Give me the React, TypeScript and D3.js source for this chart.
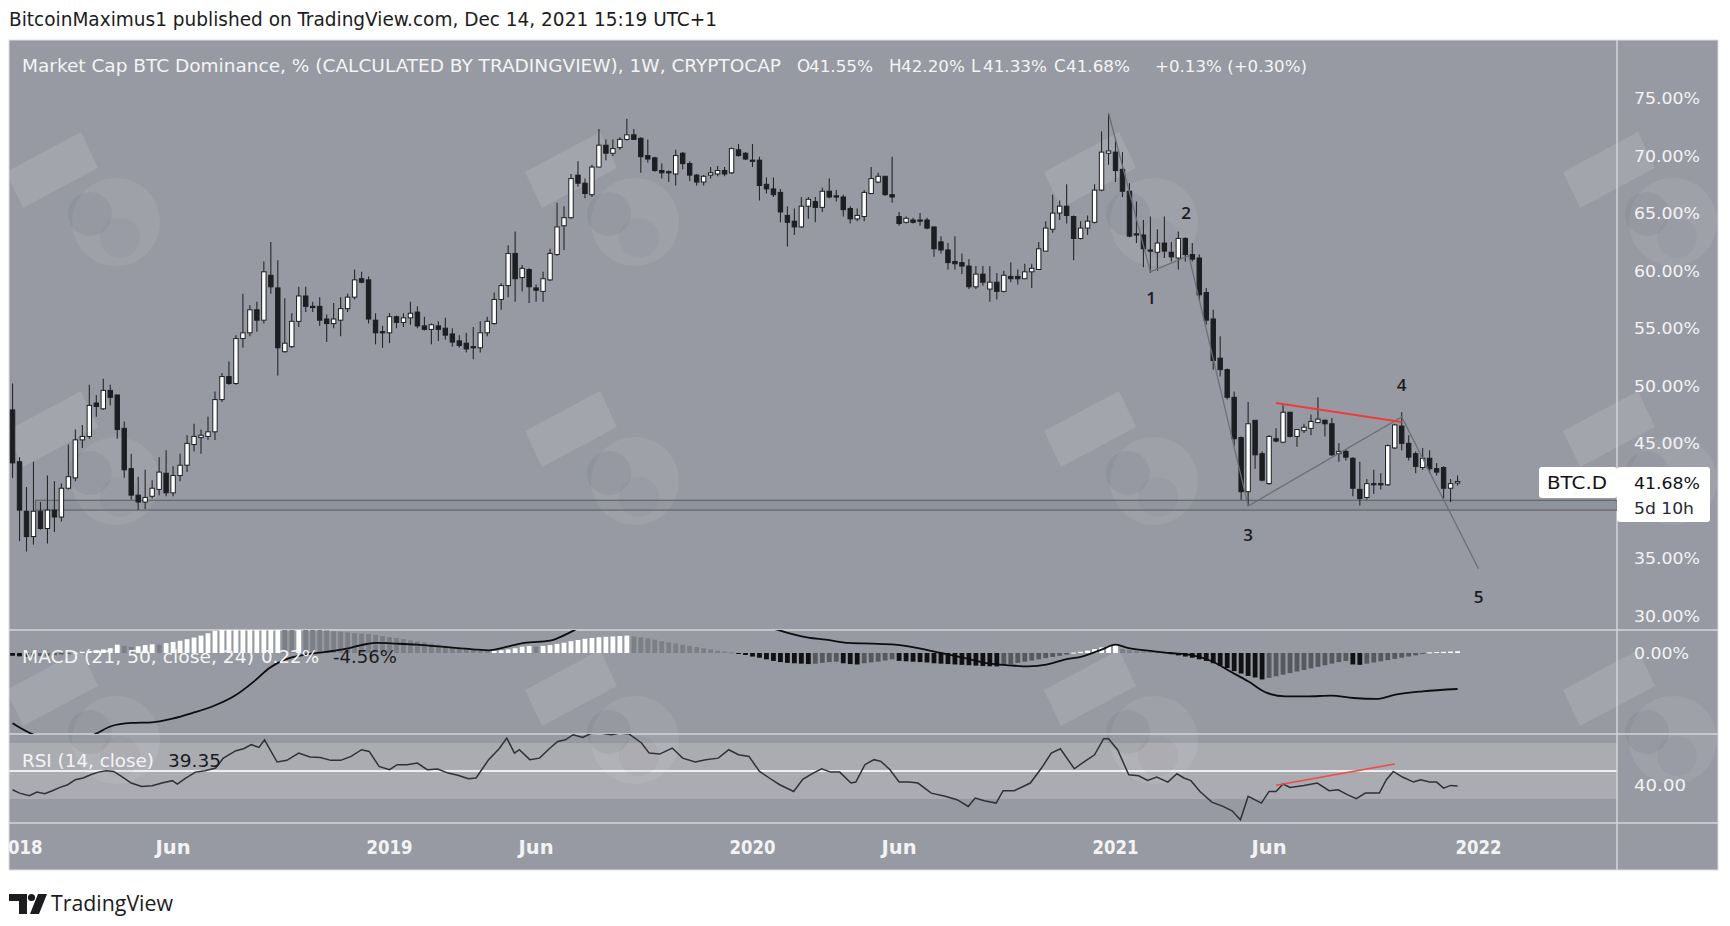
import React from 'react';
import * as d3 from 'd3';

// ---------- DATA ----------
// Weekly candles of CRYPTOCAP:BTC.D, first bar = week index -1 (week of 2017-12-25), last = week 206 (2021-12-13)
const FIRST_WEEK = -1;
const opens = [47.9,43.4,39.1,36.9,39.1,37.6,39.2,38.6,41.1,42.0,45.3,45.6,48.5,48.0,49.6,49.2,46.3,42.8,40.5,39.9,40.4,41.0,42.4,40.7,42.2,43.1,44.9,45.5,45.6,46.0,48.8,50.8,50.2,54.1,54.6,56.6,55.7,59.6,58.5,52.96,53.4,55.6,57.8,56.9,56.9,55.8,55.4,55.7,56.7,57.7,59.3,59.2,55.7,54.7,54.6,56.0,55.5,55.9,56.4,55.2,54.9,55.2,55.0,54.5,53.9,53.7,53.4,53.3,54.6,55.4,57.5,58.7,61.5,59.4,60.1,58.5,58.2,59.2,61.4,63.9,64.6,68.3,67.6,66.6,69.0,70.9,70.2,70.7,71.4,71.8,71.5,70.0,69.8,68.7,68.6,68.4,70.2,69.3,68.3,67.7,68.3,68.4,68.7,68.5,70.5,70.2,69.6,69.6,67.5,67.1,66.8,64.8,64.3,63.8,65.6,66.0,65.5,66.9,66.5,66.4,65.4,64.5,64.7,66.7,67.7,68.2,66.6,64.7,64.2,64.4,64.4,64.4,63.8,62.5,61.8,60.8,60.7,60.4,58.6,59.7,58.4,59.0,58.2,59.5,59.5,59.3,59.9,60.1,61.7,63.6,65.0,65.6,64.7,62.8,63.7,64.2,67.0,70.2,70.3,68.8,66.9,63.2,63.1,61.8,61.6,62.4,61.6,61.1,62.8,61.4,61.1,58.1,55.8,52.4,51.4,49.0,45.5,40.8,47.0,44.1,41.5,45.4,45.1,47.7,45.6,46.1,46.3,46.8,47.0,46.7,44.1,44.3,43.7,41.0,40.3,41.5,41.5,41.4,44.6,46.5,45.0,44.1,42.9,43.7,42.8,42.9,41.1,41.55];
const highs = [50.2,43.8,41.2,43.4,39.9,42.2,41.7,41.5,44.9,46.2,46.6,50.1,49.2,50.6,50.1,49.2,46.9,44.1,42.1,42.7,41.8,43.8,44.4,43.0,44.1,45.7,46.7,46.2,47.3,49.5,51.1,52.1,54.4,58.0,57.0,57.3,60.8,62.5,60.9,57.6,56.3,58.6,58.6,57.3,57.7,56.2,57.2,57.7,58.0,60.1,59.9,59.5,56.3,55.2,56.3,56.1,56.3,57.3,56.9,56.0,55.4,55.6,55.9,55.0,54.4,54.6,55.1,55.6,56.0,58.1,58.9,62.2,63.4,60.5,60.2,58.8,59.9,61.9,65.9,65.6,68.4,69.5,68.0,69.2,72.3,71.4,71.4,71.6,73.2,72.3,71.6,71.4,69.9,69.3,68.7,70.5,70.3,69.5,68.4,68.3,69.0,69.1,69.0,70.7,71.0,70.3,71.0,69.9,68.1,68.1,67.1,65.6,65.4,66.4,66.4,66.4,67.2,68.0,67.0,66.6,65.6,65.4,67.0,69.0,68.5,68.2,69.9,65.1,64.7,64.6,65.0,64.6,63.8,63.0,62.4,63.0,61.5,61.0,60.4,60.4,60.4,59.8,60.0,60.7,60.1,60.6,60.6,62.5,64.3,66.6,66.1,67.5,64.8,64.3,64.8,67.5,72.1,73.7,71.5,70.3,67.6,66.0,64.4,64.7,63.6,64.7,62.5,63.4,62.9,62.4,61.4,58.5,56.6,54.3,51.5,49.5,45.6,48.6,47.0,44.3,45.7,46.3,48.3,47.7,46.2,46.7,47.5,49.0,47.1,47.2,45.0,44.5,43.8,43.4,41.9,42.7,42.4,44.9,46.7,47.7,45.7,44.3,44.6,44.4,43.3,43.0,41.9,42.2];
const lows = [42.0,36.5,35.6,36.2,37.5,36.3,37.3,38.2,41.0,41.7,44.6,45.4,47.3,47.9,48.3,45.4,42.0,40.1,39.2,39.3,40.2,40.5,40.4,40.4,41.7,42.5,44.3,44.1,45.3,45.3,48.6,50.1,50.1,53.3,54.3,54.7,55.4,58.0,50.9,52.9,53.3,55.1,56.4,56.4,55.2,53.8,55.0,54.3,56.4,57.5,58.9,55.4,53.6,53.3,53.7,55.0,55.1,55.3,55.0,54.8,53.6,53.9,54.0,53.4,53.3,52.9,52.3,52.9,54.3,55.3,56.6,57.7,57.3,58.2,57.2,57.3,57.3,59.1,61.3,61.8,64.5,67.3,66.3,66.4,69.0,69.6,69.96,70.5,71.3,71.4,68.5,69.4,68.6,68.0,67.7,67.4,68.8,67.8,67.4,67.4,68.0,68.2,68.2,68.4,69.9,69.6,69.0,66.1,66.7,66.4,64.2,62.1,63.1,63.7,64.5,64.2,65.1,66.3,66.0,64.7,64.1,64.3,64.3,66.7,67.6,66.5,65.9,63.9,64.1,64.1,63.9,63.6,61.2,61.5,60.1,60.1,59.7,58.4,58.4,58.7,57.3,57.5,58.1,59.0,58.8,59.3,58.5,60.1,61.7,63.3,64.4,64.1,60.9,62.7,63.1,64.1,66.9,69.2,67.7,66.4,62.9,62.4,60.3,59.8,60.0,61.1,60.8,60.1,60.8,60.8,57.4,55.3,51.4,50.8,48.8,44.8,40.1,39.6,42.8,41.7,41.4,45.1,45.0,45.5,44.7,45.9,45.7,46.8,45.6,43.9,43.4,43.5,40.4,39.6,40.1,40.6,41.0,41.3,44.5,44.4,43.5,42.4,42.7,42.4,42.2,40.2,39.9,41.33];
const closes = [43.3,39.2,36.9,39.1,37.6,39.2,38.6,41.1,42.1,45.3,45.6,48.3,48.2,49.6,49.0,46.2,42.7,40.5,39.9,40.3,41.1,42.5,40.7,42.2,43.1,45.0,45.6,45.7,46.0,48.8,50.8,50.2,54.1,54.6,56.6,55.7,59.9,58.6,53.3,53.7,55.6,57.8,56.9,56.8,55.7,55.4,55.8,56.7,57.7,59.2,59.0,55.8,54.6,54.6,56.0,55.5,55.9,56.3,55.2,54.9,55.3,54.9,54.4,53.8,53.5,53.2,53.3,54.6,55.6,57.5,58.7,61.5,59.3,60.2,58.6,58.3,59.3,61.5,63.8,64.6,68.0,67.6,66.7,69.0,70.9,70.2,70.6,71.4,71.8,71.4,69.9,69.7,68.7,68.5,68.5,70.0,69.3,68.3,67.7,68.2,68.5,68.7,68.4,70.6,70.0,69.7,69.5,67.4,67.1,66.6,65.1,64.2,63.8,65.6,66.2,65.5,66.9,66.4,66.4,65.3,64.5,64.8,66.8,68.0,68.2,66.6,66.4,64.1,64.55,64.2,64.3,63.7,61.9,61.8,60.7,60.6,60.4,58.6,59.7,59.0,59.0,58.2,59.6,59.3,59.3,59.9,60.2,61.9,63.7,65.0,65.6,64.8,62.8,63.7,64.3,67.0,70.3,70.4,68.7,66.9,63.0,63.1,61.9,61.7,62.4,61.7,61.2,62.8,61.4,61.0,57.9,55.7,52.2,51.4,49.0,45.4,40.8,46.7,44.0,41.8,45.6,45.2,47.7,45.6,46.2,46.4,46.9,47.1,46.7,44.0,44.3,43.8,41.1,40.2,41.5,41.4,41.4,44.8,46.6,45.0,43.8,43.0,43.7,42.8,42.5,41.1,41.5,41.68];

// MACD (21, 50, close, 24) histogram, one value per weekly bar (%)
const macdHist = [-0.35,-0.42,-0.48,-0.45,-0.4,-0.35,-0.28,-0.18,-0.08,0.05,0.15,0.25,0.35,0.45,0.6,1.05,0.9,0.75,0.85,1.0,1.1,1.05,1.25,1.4,1.55,1.75,1.95,2.2,2.5,2.8,3.05,3.3,3.5,3.7,3.9,4.05,4.15,4.2,4.25,4.0,3.8,3.9,3.5,3.1,2.95,2.85,2.75,2.7,2.6,2.5,2.45,2.4,2.3,2.15,2.0,1.9,1.75,1.6,1.48,1.35,1.2,1.05,0.9,0.75,0.62,0.5,0.4,0.3,0.22,0.28,0.34,0.45,0.6,0.8,0.88,0.82,0.9,1.0,1.15,1.3,1.5,1.65,1.8,1.9,2.0,2.05,2.1,2.15,2.2,2.1,1.98,1.85,1.7,1.5,1.35,1.2,1.05,0.9,0.75,0.6,0.45,0.3,0.2,0.08,-0.1,-0.25,-0.45,-0.6,-0.8,-1.0,-1.15,-1.25,-1.3,-1.35,-1.4,-1.35,-1.25,-1.15,-1.1,-1.3,-1.4,-1.45,-1.3,-1.2,-1.1,-0.95,-0.8,-1.0,-1.05,-1.1,-1.15,-1.2,-1.3,-1.35,-1.4,-1.45,-1.5,-1.55,-1.6,-1.65,-1.68,-1.7,-1.55,-1.4,-1.25,-1.1,-0.95,-0.8,-0.65,-0.5,-0.35,-0.2,0.05,0.15,0.3,0.5,0.7,0.85,1.0,0.5,0.35,0.25,0.2,0.15,0.1,0.05,-0.15,-0.3,-0.45,-0.6,-0.8,-1.0,-1.3,-1.6,-1.9,-2.3,-2.6,-2.9,-3.1,-3.35,-3.15,-2.95,-2.75,-2.55,-2.35,-2.15,-1.95,-1.75,-1.55,-1.35,-1.15,-1.0,-1.45,-1.5,-1.35,-1.2,-1.05,-0.9,-0.75,-0.6,-0.45,-0.3,-0.05,0.08,0.12,0.15,0.18,0.22];

// MACD line, read at these week indices
const macdWeeks = [-1,1.4,4.3,7.3,10.9,13.1,16,19,21.9,24.8,27.7,30.7,33.6,35.8,38,40.9,43.8,46.7,49.7,51.1,54,57,59.9,62.8,65.7,67.2,70.1,72.3,76,78.2,79.6,84,90,97,103,108.5,111,113,115.5,118.8,122.1,125.4,128.7,132,135.3,138.5,141.8,144.5,147.1,149.7,152.3,155,157,158.9,161.6,164.8,168.1,170.8,173.4,176,178.7,181.3,184.6,187.9,191.1,194.4,197.1,201,206];
const macdLine = [-8.9,-10.1,-11.0,-11.5,-10.25,-9.28,-8.86,-8.78,-8.31,-7.59,-6.75,-5.49,-3.59,-1.9,-0.84,-0.21,0.13,0.51,1.14,1.27,1.18,1.05,0.84,0.63,0.42,0.34,0.84,1.27,1.56,2.32,2.95,4.6,5.6,5.0,3.9,2.95,2.32,1.95,1.69,1.27,1.18,1.05,0.63,0.0,-0.63,-1.27,-1.56,-1.69,-1.48,-0.84,-0.42,0.42,1.05,0.63,0.3,0.0,-0.3,-1.05,-2.32,-3.59,-5.06,-5.49,-5.49,-5.4,-5.7,-5.82,-5.27,-4.85,-4.56];

// RSI (14, close), read at these week indices
const rsiWeeks = [-1,0,1.4,2.5,3.6,4.7,5.8,6.9,8,9.1,10.2,11.3,12.4,13.5,14.6,16,17.5,19,20.4,21.9,22.6,23.7,25.2,26.6,28.1,29.2,31,32.1,33.2,34.3,35.1,36.9,38.3,40,41.6,43.1,44.6,46,47.5,49,50.1,51.5,53,54.1,55.5,57,58.4,59.9,61.4,62.8,64.3,65.4,67.2,68.7,69.8,70.9,71.6,73.1,74.5,76,77.1,78.2,79.3,80.7,81.8,83.3,84.8,85.9,87.3,89.1,90.2,91.7,93.5,95,96.8,98.3,100.1,101.6,103,104.5,106,107.4,108.9,110.9,112.2,113.5,114.9,116.2,117.5,119.1,119.8,121.1,122.4,123.4,124.7,126,127.4,128.7,130.6,132.6,134.3,135.9,136.9,138.2,139.9,140.9,142.5,144.8,146.4,147.8,149.1,151.1,152.7,154,155.3,156,157.3,158.9,160.3,161.6,162.9,164.5,165.8,166.8,167.8,169.1,170.8,172.4,173.7,174.9,176,177.9,179,180,181,182,184,185.9,187.6,188.9,190.2,191.5,192.8,194.8,195.8,196.8,198.1,199.7,200.7,202,203,204,205,206];
const rsiValues = [36.6,34.2,32.3,35,33.8,35.9,38.3,40.2,43.8,45,47.3,49.2,50.2,49.7,46.1,41.4,39,39.5,41.4,43.1,40.7,44.5,49.2,50.2,52.1,59.2,64.5,65.9,68.8,66.9,72.3,56.4,57.6,62.8,60,59.7,57.6,57.6,60.4,65.2,64,53.3,50.9,54.5,54.5,55.7,50.9,51.4,48.5,46.9,44.5,45,58.1,65.9,73.5,62.8,65.2,58.1,59.2,66.4,71.1,72.3,75.9,74,76.8,77,75.9,77,76.5,70,62.8,62.1,66.4,59.2,56.4,58.1,59.2,65.2,61.6,60.4,49.7,45,40.2,35.4,44,48,51.6,49.2,49.2,41.4,42.1,54.5,58.1,56.9,50.9,42.1,42.1,41.4,34.2,31.9,29.5,24.7,30.7,28.8,27.1,35.9,35.9,41.4,52.1,62.8,65.9,51.6,57.3,61.6,73.1,73.1,65.2,47.3,46.6,43.3,45.7,42.1,48,45,43.1,35.4,27.8,24.7,21.6,15.2,31.9,27.1,35.4,35.4,40.7,38.3,39.7,41.4,35.9,36.6,33.1,30.2,34.2,34.2,43.8,49.7,45.7,42.1,43.8,42.1,42.1,37.8,39.7,39.35];

// Drawings
const waveWeeks = [156, 162, 167.5, 176, 198, 209];
const waveValues = [73.7, 59.9, 61.3, 39.55, 47.3, 34.1];
const waveLabels = ['1', '2', '3', '4', '5'];
const waveLabelWeeks = [162.1, 167.1, 176, 198, 209];
const waveLabelValues = [57.6, 65.0, 37.0, 50.1, 31.65];
const resistWeeks = [180, 198];
const resistValues = [48.5, 46.85];
const rsiTrendWeeks = [180, 197];
const rsiTrendValues = [39.8, 55.0];
const supportStartWeek = 2.3;
const supportZone = [39.2, 40.05];

const priceTicks = [75, 70, 65, 60, 55, 50, 45, 40, 35, 30];
const timeTickDates = ['2018-01-01', '2018-06-04', '2019-01-07', '2019-06-03', '2020-01-06', '2020-06-01', '2021-01-04', '2021-06-07', '2022-01-03'];
const timeTickLabels = ['2018', 'Jun', '2019', 'Jun', '2020', 'Jun', '2021', 'Jun', '2022'];

const headerText = 'BitcoinMaximus1 published on TradingView.com, Dec 14, 2021 15:19 UTC+1';
const titleText = 'Market Cap BTC Dominance, % (CALCULATED BY TRADINGVIEW), 1W, CRYPTOCAP';
const ohlcLabels = ['O', 'H', 'L', 'C'];
const ohlcValues = ['41.55%', '42.20%', '41.33%', '41.68%'];
const changeText = '+0.13% (+0.30%)';

// ---------- LAYOUT ----------
const W = 1730, H = 926;
const L = 9, R = 1718, AX = 1617;
const TOP = 40, MAIN_B = 630, MACD_B = 734, RSI_B = 823, BOT = 870;
const BG = '#979aa2';
const SEP = '#d3d4d8';
const AXIS_TXT = '#f3f3f5';
const NARROW = "'Liberation Sans Narrow', 'DejaVu Sans Condensed', Roboto, sans-serif";
const DV = "'DejaVu Sans', Verdana, sans-serif";

const DAY = 86400000;
const WEEK0 = Date.UTC(2018, 0, 1);
const weekDate = (w: number) => new Date(WEEK0 + w * 7 * DAY);

export default function App() {
  const x = d3.scaleUtc()
    .domain([new Date(Date.UTC(2019, 0, 7)), new Date(Date.UTC(2022, 0, 3))])
    .range([389.5, 1478.5]);
  const xw = (w: number) => x(weekDate(w));
  const y = d3.scaleLinear().domain([30, 75]).range([616, 98]);
  const yM = d3.scaleLinear().domain([0, -4.56]).range([653, 689]);
  const yR = d3.scaleLinear().domain([30, 70]).range([799, 743]);

  const candles = closes.map((c, i) => ({ w: FIRST_WEEK + i, o: opens[i], h: highs[i], l: lows[i], c }));
  const bodyW = 4.4;

  const macdPath = d3.line<number>()
    .x((_, i) => xw(macdWeeks[i]))
    .y((d) => yM(d))
    .curve(d3.curveMonotoneX)(macdLine) || '';
  const rsiPath = d3.line<number>()
    .x((_, i) => xw(rsiWeeks[i]))
    .y((d) => yR(d))(rsiValues) || '';
  const wavePath = d3.line<number>()
    .x((_, i) => xw(waveWeeks[i]))
    .y((d) => y(d))(waveValues) || '';

  const histColor = (v: number, prev: number | undefined) => {
    if (v >= 0) return prev === undefined || v >= prev ? '#ffffff' : '#7c7f86';
    return prev === undefined || v <= prev ? '#111113' : '#57595f';
  };

  const wmX = [6, 525, 1044, 1563];
  const wmY = [172, 431, 690];

  return (
    <svg width={W} height={H} viewBox={`0 0 ${W} ${H}`}
      style={{ position: 'absolute', left: 0, top: 0, background: '#ffffff' }}>
      <defs>
        <clipPath id="frame"><rect x={L} y={TOP} width={R - L} height={BOT - TOP} /></clipPath>
        <clipPath id="mainPane"><rect x={L} y={TOP} width={AX - L} height={MAIN_B - TOP} /></clipPath>
        <clipPath id="macdPane"><rect x={L} y={MAIN_B} width={AX - L} height={MACD_B - MAIN_B} /></clipPath>
        <clipPath id="rsiPane"><rect x={L} y={MACD_B} width={AX - L} height={RSI_B - MACD_B} /></clipPath>
        <clipPath id="timePane"><rect x={L} y={RSI_B} width={AX - L} height={BOT - RSI_B} /></clipPath>
      </defs>

      {/* header */}
      <text x={9} y={26} fontFamily={NARROW} fontSize={20} fill="#1c1c1e"
        textLength={708} lengthAdjust="spacingAndGlyphs">{headerText}</text>

      {/* chart background */}
      <rect x={L} y={TOP} width={R - L} height={BOT - TOP} fill={BG} />

      {/* RSI band */}
      <rect x={L} y={yR(70)} width={AX - L} height={yR(30) - yR(70)} fill="#abacb1" />
      <line x1={L} x2={AX} y1={yR(50)} y2={yR(50)} stroke="#eeeef0" strokeWidth={2.2} />

      {/* watermarks */}
      <g clipPath="url(#frame)">
        {wmX.map((ax) => wmY.map((ay) => (
          <g key={`${ax}-${ay}`} transform={`translate(${ax},${ay})`}>
            <polygon points="0,0 75,-40 92,-4 17,36" fill="rgba(255,255,255,0.11)" />
            <circle cx={110} cy={50} r={44} fill="rgba(255,255,255,0.08)" />
            <circle cx={84} cy={42} r={22} fill="rgba(70,75,92,0.09)" />
            <circle cx={114} cy={66} r={20} fill="rgba(70,75,92,0.05)" />
          </g>
        )))}
      </g>

      {/* separators */}
      <line x1={L} x2={R} y1={MAIN_B} y2={MAIN_B} stroke={SEP} strokeWidth={1.5} />
      <line x1={L} x2={R} y1={MACD_B} y2={MACD_B} stroke={SEP} strokeWidth={1.5} />
      <line x1={L} x2={R} y1={RSI_B} y2={RSI_B} stroke={SEP} strokeWidth={1.5} />
      <line x1={AX} x2={AX} y1={TOP} y2={BOT} stroke={SEP} strokeWidth={1.5} />
      <rect x={L} y={TOP} width={R - L} height={BOT - TOP} fill="none" stroke="#dcdde0" strokeWidth={1} />

      {/* main pane */}
      <g clipPath="url(#mainPane)">
        {/* support zone */}
        <rect x={xw(supportStartWeek)} y={y(supportZone[1])} width={AX - xw(supportStartWeek)}
          height={y(supportZone[0]) - y(supportZone[1])} fill="rgba(80,84,95,0.10)"
          stroke="#62656d" strokeWidth={1.2} />
        {/* candles */}
        {candles.map((d) => {
          const cx = xw(d.w);
          const up = d.c >= d.o;
          const top = y(Math.max(d.o, d.c));
          const bot = y(Math.min(d.o, d.c));
          return (
            <g key={d.w}>
              <line x1={cx} x2={cx} y1={y(d.h)} y2={y(d.l)} stroke="#26272b" strokeWidth={1.1} />
              <rect x={cx - bodyW / 2} y={top} width={bodyW} height={Math.max(1.2, bot - top)}
                fill={up ? '#ffffff' : '#1d1e22'} stroke="#1d1e22" strokeWidth={1} />
            </g>
          );
        })}
        {/* wave count */}
        <path d={wavePath} fill="none" stroke="#6c6f77" strokeWidth={1.3} />
        <line x1={xw(resistWeeks[0])} x2={xw(resistWeeks[1])} y1={y(resistValues[0])} y2={y(resistValues[1])}
          stroke="#ef3b3b" strokeWidth={2} />
        {waveLabels.map((t, i) => (
          <text key={t} x={xw(waveLabelWeeks[i])} y={y(waveLabelValues[i]) + 6} textAnchor="middle"
            fontFamily="'Open Sans', sans-serif" fontWeight={600} fontSize={17} fill="#1b1b1e">{t}</text>
        ))}
        {/* legend */}
        <text x={22} y={72} fontFamily={NARROW} fontSize={18.5} fill="#f4f4f6"
          textLength={759} lengthAdjust="spacingAndGlyphs">{titleText}</text>
        {ohlcLabels.map((lbl, i) => {
          const xs = [797, 889, 971, 1054][i];
          return (
            <g key={lbl}>
              <text x={xs} y={72} fontFamily={NARROW} fontSize={18.5} fill="#f4f4f6">{lbl}</text>
              <text x={xs + 12} y={72} fontFamily={DV} fontSize={15.5} fill="#f4f4f6"
                textLength={64} lengthAdjust="spacingAndGlyphs">{ohlcValues[i]}</text>
            </g>
          );
        })}
        <text x={1155} y={72} fontFamily={DV} fontSize={15.5} fill="#f4f4f6"
          textLength={152} lengthAdjust="spacingAndGlyphs">{changeText}</text>
      </g>

      {/* MACD pane */}
      <g clipPath="url(#macdPane)">
        {macdHist.map((v, i) => {
          const cx = xw(FIRST_WEEK + i);
          const y0 = yM(0), y1 = yM(v);
          return (
            <rect key={i} x={cx - 2.4} width={4.8} y={Math.min(y0, y1)} height={Math.max(1, Math.abs(y1 - y0))}
              fill={histColor(v, i > 0 ? macdHist[i - 1] : undefined)} />
          );
        })}
        <path d={macdPath} fill="none" stroke="#0d0d10" strokeWidth={1.8} />
        <text x={22} y={663} fontFamily={NARROW} fontSize={18} fill="#f4f4f6"
          textLength={232} lengthAdjust="spacingAndGlyphs">MACD (21, 50, close, 24)</text>
        <text x={261} y={663} fontFamily={NARROW} fontSize={18} fill="#f4f4f6"
          textLength={58} lengthAdjust="spacingAndGlyphs">0.22%</text>
        <text x={333} y={663} fontFamily={NARROW} fontSize={18} fill="#1b1b1e"
          textLength={64} lengthAdjust="spacingAndGlyphs">-4.56%</text>
      </g>

      {/* RSI pane */}
      <g clipPath="url(#rsiPane)">
        <path d={rsiPath} fill="none" stroke="#303136" strokeWidth={1.5} />
        <line x1={xw(rsiTrendWeeks[0])} x2={xw(rsiTrendWeeks[1])} y1={yR(rsiTrendValues[0])} y2={yR(rsiTrendValues[1])}
          stroke="#ef4a4a" strokeWidth={1.6} />
        <text x={22} y={767} fontFamily={NARROW} fontSize={18} fill="#f4f4f6"
          textLength={132} lengthAdjust="spacingAndGlyphs">RSI (14, close)</text>
        <text x={168} y={767} fontFamily={NARROW} fontSize={18} fill="#1b1b1e"
          textLength={53} lengthAdjust="spacingAndGlyphs">39.35</text>
      </g>

      {/* time axis */}
      <g clipPath="url(#timePane)">
        {timeTickDates.map((ds, i) => {
          const lbl = timeTickLabels[i];
          return (
            <text key={ds} x={x(new Date(ds + 'T00:00:00Z'))} y={854} textAnchor="middle"
              fontFamily={NARROW} fontWeight={700} fontSize={19} fill={AXIS_TXT}
              textLength={lbl.length === 4 ? 46 : 35} lengthAdjust="spacingAndGlyphs">{lbl}</text>
          );
        })}
      </g>

      {/* price axis */}
      {priceTicks.map((v) => (
        <text key={v} x={1634} y={y(v) + 6} fontFamily={DV} fontSize={16} fill={AXIS_TXT}
          textLength={66} lengthAdjust="spacingAndGlyphs">{v.toFixed(2) + '%'}</text>
      ))}
      <text x={1634} y={yM(0) + 6} fontFamily={DV} fontSize={16} fill={AXIS_TXT}
        textLength={55} lengthAdjust="spacingAndGlyphs">0.00%</text>
      <text x={1634} y={yR(40) + 6} fontFamily={DV} fontSize={16} fill={AXIS_TXT}
        textLength={52} lengthAdjust="spacingAndGlyphs">40.00</text>

      {/* last price labels */}
      <rect x={1539} y={467} width={78} height={31} rx={3} fill="#ffffff" />
      <text x={1547} y={489} fontFamily={DV} fontSize={17} fill="#121214"
        textLength={60} lengthAdjust="spacingAndGlyphs">BTC.D</text>
      <rect x={1617} y={467} width={93} height={55} rx={3} fill="#ffffff" />
      <text x={1634} y={489} fontFamily={DV} fontSize={16} fill="#121214"
        textLength={66} lengthAdjust="spacingAndGlyphs">{ohlcValues[3]}</text>
      <text x={1634} y={514} fontFamily={DV} fontSize={16} fill="#2a2a2e"
        textLength={60} lengthAdjust="spacingAndGlyphs">5d 10h</text>

      {/* TradingView logo */}
      <g fill="#1c1c1e">
        <path d="M9,894 H27 V914 H19 V901 H9 Z" />
        <circle cx={31.5} cy={897.5} r={3.6} />
        <polygon points="38,894 47,894 39,914 30,914" />
      </g>
      <text x={51} y={911} fontFamily="'Open Sans', sans-serif" fontSize={21} fill="#1c1c1e"
        textLength={122} lengthAdjust="spacingAndGlyphs">TradingView</text>
    </svg>
  );
}
